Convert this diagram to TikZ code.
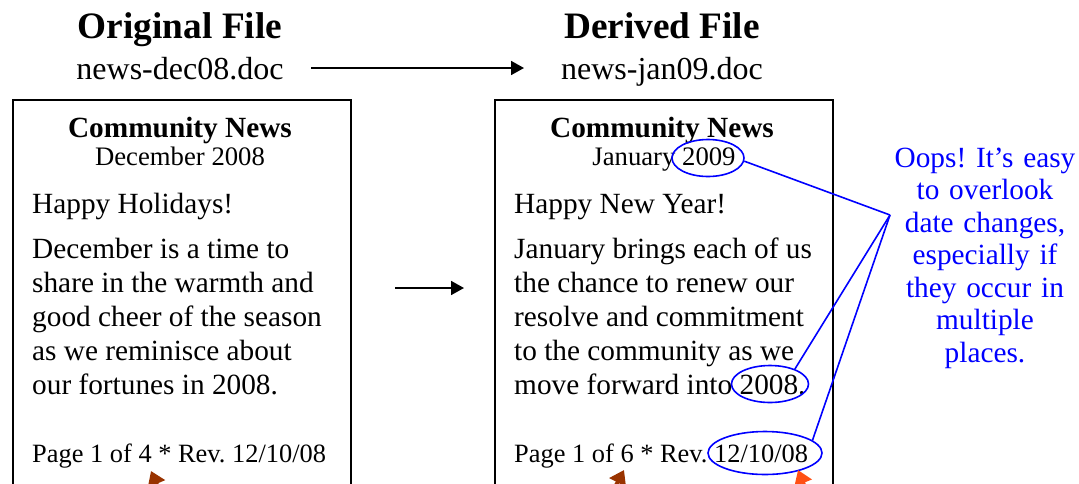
\documentclass[tikz,border=0pt]{standalone}
\usepackage{fontspec}
\setmainfont{Liberation Serif}
\usetikzlibrary{arrows.meta,shapes.geometric}
\definecolor{brownA}{RGB}{153,51,0}
\definecolor{redA}{RGB}{255,80,20}
\frenchspacing
\tikzset{
  title/.style={font=\fontsize{37.3}{40}\selectfont\bfseries, anchor=base, inner sep=0pt},
  fname/.style={font=\fontsize{32}{36}\selectfont, anchor=base, inner sep=0pt},
  head/.style={font=\fontsize{29.3}{33}\selectfont\bfseries, anchor=base, inner sep=0pt},
  small/.style={font=\fontsize{26.7}{30}\selectfont, anchor=base, inner sep=0pt},
  body/.style={font=\fontsize{29.3}{34}\selectfont, anchor=base west, inner sep=0pt},
  foot/.style={font=\fontsize{26.4}{30}\selectfont, anchor=base west, inner sep=0pt},
  page/.style={draw=black, line width=1.5pt, minimum width=338pt, minimum height=420pt, anchor=north west, inner sep=0pt},
  arr/.style={line width=1.8pt, -{Triangle[length=13pt,width=14pt]}},
  ring/.style={ellipse, draw=blue, line width=1.6pt, inner sep=0pt},
  callline/.style={draw=blue, line width=1.6pt},
  hint/.style={line width=4pt, -{Triangle[length=14pt,width=18pt]}},
}
\begin{document}
\begin{tikzpicture}[x=1pt,y=-1pt]
\useasboundingbox (0,0) rectangle (1079,483);
\clip (0,0) rectangle (1079,483);
% headings
\node[title] (t1) at (180,38) {Original File};
\node[title] (t2) at (662,38) {Derived File};
\node[fname] (f1) at (180,79) {news-dec08.doc};
\node[fname] (f2) at (662,79) {news-jan09.doc};
\coordinate (a1s) at (311,68);
\coordinate (a1e) at (524,68);
\draw[arr] (a1s) -- (a1e);
% pages
\node[page] (p1) at (12,99) {};
\node[page] (p2) at (494,99) {};
\coordinate (a2s) at (395,288);
\coordinate (a2e) at (464,288);
\draw[arr] (a2s) -- (a2e);
% left page
\node[head] (h1) at (180,137) {Community News};
\node[small] (d1) at (180,165) {December 2008};
\node[body] (g1) at (32,213) {Happy Holidays!};
\node[body] (l11) at (32,258) {December is a time to};
\node[body] (l12) at (32,292) {share in the warmth and};
\node[body] (l13) at (32,326) {good cheer of the season};
\node[body] (l14) at (32,360) {as we reminisce about};
\node[body] (l15) at (32,394) {our fortunes in 2008.};
\node[foot] (r1) at (32,462) {Page 1 of 4 * Rev. 12/10/08};
% right page
\node[head] (h2) at (662,137) {Community News};
\node[small] (d2) at (664,165) {January 2009};
\node[body] (g2) at (514,213) {Happy New Year!};
\node[body] (l21) at (514,258) {January brings each of us};
\node[body] (l22) at (514,292) {the chance to renew our};
\node[body] (l23) at (514,326) {resolve and commitment};
\node[body] (l24) at (514,360) {to the community as we};
\node[body] (l25) at (514,394) {move forward into 2008.};
\node[foot] (r2) at (514,462) {Page 1 of 6 * Rev. 12/10/08};
% rings
\node[ring, minimum width=72pt, minimum height=37pt] (e1) at (708,158) {};
\node[ring, minimum width=77pt, minimum height=37pt] (e2) at (770,384) {};
\node[ring, minimum width=114pt, minimum height=43pt] (e3) at (765,453) {};
% callout
\node[font=\fontsize{29.3}{32.5}\selectfont, text=blue, text width=210pt, align=center, anchor=base, inner sep=0pt] (co) at (985,167)
  {Oops! It’s easy\\ to overlook\\ date changes,\\ especially if\\ they occur in\\ multiple\\ places.};
\coordinate (cv) at (890,215);
\draw[callline] (e1.-5) -- (cv);
\draw[callline] (e2.31) -- (cv);
\draw[callline] (e3.15) -- (cv);
% hint arrows from below
\coordinate (b1s) at (172,520);
\coordinate (b1e) at (151,471);
\coordinate (b2s) at (598,520);
\coordinate (b2e) at (624,470);
\coordinate (b3s) at (818,520);
\coordinate (b3e) at (798,470);
\draw[hint, brownA] (b1s) -- (b1e);
\draw[hint, brownA] (b2s) -- (b2e);
\draw[hint, redA] (b3s) -- (b3e);
\end{tikzpicture}
\end{document}
